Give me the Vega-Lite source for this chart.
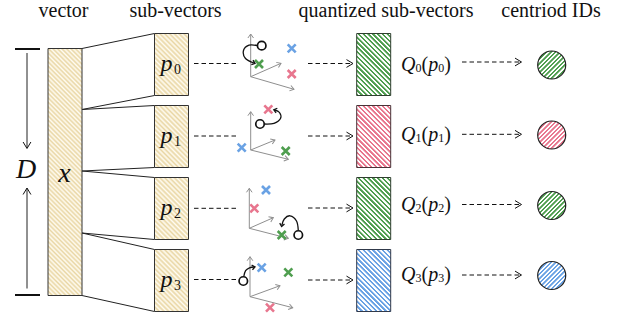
{
  "$schema": "https://vega.github.io/schema/vega-lite/v6.json",
  "width": 625,
  "height": 318,
  "autosize": {"type": "fit", "contains": "padding"},
  "padding": 0,
  "background": "white",
  "config": {"view": {"stroke": null}},
  "encoding": {
    "x": {"field": "x", "type": "quantitative", "scale": {"domain": [0, 625], "nice": false, "zero": false}, "axis": null},
    "y": {"field": "y", "type": "quantitative", "scale": {"domain": [0, 318], "nice": false, "zero": false, "reverse": true}, "axis": null}
  },
  "layer": [
    {
      "data": {"values": [
        {"x": 250.7, "y": 76.7, "x2": 250.7, "y2": 34},
        {"x": 250.7, "y": 76.7, "x2": 281, "y2": 63.3},
        {"x": 250.7, "y": 76.7, "x2": 294, "y2": 89.3},
        {"x": 250.7, "y": 150, "x2": 250.7, "y2": 111.7},
        {"x": 250.7, "y": 150, "x2": 275, "y2": 140},
        {"x": 250.7, "y": 150, "x2": 288.3, "y2": 159.3},
        {"x": 249.3, "y": 228.3, "x2": 249.3, "y2": 188.3},
        {"x": 249.3, "y": 228.3, "x2": 273.3, "y2": 217.7},
        {"x": 249.3, "y": 228.3, "x2": 288.3, "y2": 238.3},
        {"x": 250, "y": 296.7, "x2": 250, "y2": 256.7},
        {"x": 250, "y": 296.7, "x2": 280, "y2": 285.7},
        {"x": 250, "y": 296.7, "x2": 292.7, "y2": 307.7}
      ]},
      "mark": {"type": "rule", "color": "#8f8f8f", "strokeWidth": 1},
      "encoding": {"x2": {"field": "x2"}, "y2": {"field": "y2"}}
    },
    {
      "data": {"values": [
        {"x": 250.7, "y": 34, "a": 270},
        {"x": 281, "y": 63.3, "a": -24},
        {"x": 294, "y": 89.3, "a": 16},
        {"x": 250.7, "y": 111.7, "a": 270},
        {"x": 275, "y": 140, "a": -22},
        {"x": 288.3, "y": 159.3, "a": 14},
        {"x": 249.3, "y": 188.3, "a": 270},
        {"x": 273.3, "y": 217.7, "a": -24},
        {"x": 288.3, "y": 238.3, "a": 14},
        {"x": 250, "y": 256.7, "a": 270},
        {"x": 280, "y": 285.7, "a": -20},
        {"x": 292.7, "y": 307.7, "a": 14}
      ]},
      "mark": {"type": "point", "shape": "M-1,-0.7L0,0L-1,0.7", "filled": false, "stroke": "#8f8f8f", "strokeWidth": 1, "size": 64, "opacity": 1},
      "encoding": {"angle": {"field": "a", "type": "quantitative", "scale": null}}
    },
    {
      "data": {"values": [
        {"x": 82, "y": 48.5, "x2": 154.5, "y2": 33.5},
        {"x": 82, "y": 109.5, "x2": 154.5, "y2": 95.5},
        {"x": 82, "y": 109.5, "x2": 154.5, "y2": 105.5},
        {"x": 82, "y": 171, "x2": 154.5, "y2": 167.5},
        {"x": 82, "y": 171, "x2": 154.5, "y2": 177.5},
        {"x": 82, "y": 233, "x2": 154.5, "y2": 239.5},
        {"x": 82, "y": 233, "x2": 154.5, "y2": 249.5},
        {"x": 82, "y": 295.5, "x2": 154.5, "y2": 311.5},
        {"x": 27, "y": 53, "x2": 27, "y2": 148},
        {"x": 27, "y": 188.5, "x2": 27, "y2": 288.5}
      ]},
      "mark": {"type": "rule", "color": "#222222", "strokeWidth": 1},
      "encoding": {"x2": {"field": "x2"}, "y2": {"field": "y2"}}
    },
    {
      "data": {"values": [
        {"x": 15, "y": 49, "x2": 40, "y2": 49},
        {"x": 15, "y": 295, "x2": 40, "y2": 295}
      ]},
      "mark": {"type": "rule", "color": "#111111", "strokeWidth": 2},
      "encoding": {"x2": {"field": "x2"}, "y2": {"field": "y2"}}
    },
    {
      "data": {"values": [
        {"x": 194, "y": 63.5, "x2": 238.5, "y2": 63.5},
        {"x": 194, "y": 136, "x2": 238.5, "y2": 136},
        {"x": 194, "y": 208.3, "x2": 238.5, "y2": 208.3},
        {"x": 194, "y": 279.5, "x2": 238, "y2": 279.5},
        {"x": 308, "y": 63.5, "x2": 352.5, "y2": 63.5},
        {"x": 308, "y": 136, "x2": 352.5, "y2": 136},
        {"x": 308, "y": 208, "x2": 352.5, "y2": 208},
        {"x": 308, "y": 280, "x2": 352.5, "y2": 280},
        {"x": 462, "y": 62, "x2": 521, "y2": 62},
        {"x": 462, "y": 134.3, "x2": 521, "y2": 134.3},
        {"x": 462, "y": 204.5, "x2": 521, "y2": 204.5},
        {"x": 462, "y": 275, "x2": 521, "y2": 275}
      ]},
      "mark": {"type": "rule", "color": "#111111", "strokeWidth": 1, "strokeDash": [4.5, 3]},
      "encoding": {"x2": {"field": "x2"}, "y2": {"field": "y2"}}
    },
    {
      "data": {"values": [
        {"x": 353, "y": 63.5, "a": 0},
        {"x": 353, "y": 136, "a": 0},
        {"x": 353, "y": 208, "a": 0},
        {"x": 353, "y": 280, "a": 0},
        {"x": 521.5, "y": 62, "a": 0},
        {"x": 521.5, "y": 134.3, "a": 0},
        {"x": 521.5, "y": 204.5, "a": 0},
        {"x": 521.5, "y": 275, "a": 0},
        {"x": 27, "y": 148.5, "a": 90},
        {"x": 27, "y": 188, "a": 270}
      ]},
      "mark": {"type": "point", "shape": "M-1,-0.6L0,0L-1,0.6", "filled": false, "stroke": "#111111", "strokeWidth": 1, "size": 169, "opacity": 1},
      "encoding": {"angle": {"field": "a", "type": "quantitative", "scale": null}}
    },
    {
      "data": {"values": [
        {"x": 48, "y": 48.5, "x2": 82, "y2": 295.5}
      ]},
      "mark": {"type": "rect", "stroke": "#333333", "strokeWidth": 1,
        "fill": {"gradient": "linear", "x1": 0, "y1": 1, "x2": 0.1537, "y2": -0.1165, "stops": [
          {"offset": 0, "color": "#e9d6a4"}, {"offset": 0.008, "color": "#fffcf2"}, {"offset": 0.016, "color": "#e9d6a4"}, {"offset": 0.024, "color": "#fffcf2"},
          {"offset": 0.032, "color": "#e9d6a4"}, {"offset": 0.04, "color": "#fffcf2"}, {"offset": 0.048, "color": "#e9d6a4"}, {"offset": 0.056, "color": "#fffcf2"},
          {"offset": 0.064, "color": "#e9d6a4"}, {"offset": 0.072, "color": "#fffcf2"}, {"offset": 0.08, "color": "#e9d6a4"}, {"offset": 0.088, "color": "#fffcf2"},
          {"offset": 0.096, "color": "#e9d6a4"}, {"offset": 0.104, "color": "#fffcf2"}, {"offset": 0.112, "color": "#e9d6a4"}, {"offset": 0.12, "color": "#fffcf2"},
          {"offset": 0.128, "color": "#e9d6a4"}, {"offset": 0.136, "color": "#fffcf2"}, {"offset": 0.144, "color": "#e9d6a4"}, {"offset": 0.152, "color": "#fffcf2"},
          {"offset": 0.16, "color": "#e9d6a4"}, {"offset": 0.168, "color": "#fffcf2"}, {"offset": 0.176, "color": "#e9d6a4"}, {"offset": 0.184, "color": "#fffcf2"},
          {"offset": 0.192, "color": "#e9d6a4"}, {"offset": 0.2, "color": "#fffcf2"}, {"offset": 0.208, "color": "#e9d6a4"}, {"offset": 0.216, "color": "#fffcf2"},
          {"offset": 0.224, "color": "#e9d6a4"}, {"offset": 0.232, "color": "#fffcf2"}, {"offset": 0.24, "color": "#e9d6a4"}, {"offset": 0.248, "color": "#fffcf2"},
          {"offset": 0.256, "color": "#e9d6a4"}, {"offset": 0.264, "color": "#fffcf2"}, {"offset": 0.272, "color": "#e9d6a4"}, {"offset": 0.28, "color": "#fffcf2"},
          {"offset": 0.288, "color": "#e9d6a4"}, {"offset": 0.296, "color": "#fffcf2"}, {"offset": 0.304, "color": "#e9d6a4"}, {"offset": 0.312, "color": "#fffcf2"},
          {"offset": 0.32, "color": "#e9d6a4"}, {"offset": 0.328, "color": "#fffcf2"}, {"offset": 0.336, "color": "#e9d6a4"}, {"offset": 0.344, "color": "#fffcf2"},
          {"offset": 0.352, "color": "#e9d6a4"}, {"offset": 0.36, "color": "#fffcf2"}, {"offset": 0.368, "color": "#e9d6a4"}, {"offset": 0.376, "color": "#fffcf2"},
          {"offset": 0.384, "color": "#e9d6a4"}, {"offset": 0.392, "color": "#fffcf2"}, {"offset": 0.4, "color": "#e9d6a4"}, {"offset": 0.408, "color": "#fffcf2"},
          {"offset": 0.416, "color": "#e9d6a4"}, {"offset": 0.424, "color": "#fffcf2"}, {"offset": 0.432, "color": "#e9d6a4"}, {"offset": 0.44, "color": "#fffcf2"},
          {"offset": 0.448, "color": "#e9d6a4"}, {"offset": 0.456, "color": "#fffcf2"}, {"offset": 0.464, "color": "#e9d6a4"}, {"offset": 0.472, "color": "#fffcf2"},
          {"offset": 0.48, "color": "#e9d6a4"}, {"offset": 0.488, "color": "#fffcf2"}, {"offset": 0.496, "color": "#e9d6a4"}, {"offset": 0.504, "color": "#fffcf2"},
          {"offset": 0.512, "color": "#e9d6a4"}, {"offset": 0.52, "color": "#fffcf2"}, {"offset": 0.528, "color": "#e9d6a4"}, {"offset": 0.536, "color": "#fffcf2"},
          {"offset": 0.544, "color": "#e9d6a4"}, {"offset": 0.552, "color": "#fffcf2"}, {"offset": 0.56, "color": "#e9d6a4"}, {"offset": 0.568, "color": "#fffcf2"},
          {"offset": 0.576, "color": "#e9d6a4"}, {"offset": 0.584, "color": "#fffcf2"}, {"offset": 0.592, "color": "#e9d6a4"}, {"offset": 0.6, "color": "#fffcf2"},
          {"offset": 0.608, "color": "#e9d6a4"}, {"offset": 0.616, "color": "#fffcf2"}, {"offset": 0.624, "color": "#e9d6a4"}, {"offset": 0.632, "color": "#fffcf2"},
          {"offset": 0.64, "color": "#e9d6a4"}, {"offset": 0.648, "color": "#fffcf2"}, {"offset": 0.656, "color": "#e9d6a4"}, {"offset": 0.664, "color": "#fffcf2"},
          {"offset": 0.672, "color": "#e9d6a4"}, {"offset": 0.68, "color": "#fffcf2"}, {"offset": 0.688, "color": "#e9d6a4"}, {"offset": 0.696, "color": "#fffcf2"},
          {"offset": 0.704, "color": "#e9d6a4"}, {"offset": 0.712, "color": "#fffcf2"}, {"offset": 0.72, "color": "#e9d6a4"}, {"offset": 0.728, "color": "#fffcf2"},
          {"offset": 0.736, "color": "#e9d6a4"}, {"offset": 0.744, "color": "#fffcf2"}, {"offset": 0.752, "color": "#e9d6a4"}, {"offset": 0.76, "color": "#fffcf2"},
          {"offset": 0.768, "color": "#e9d6a4"}, {"offset": 0.776, "color": "#fffcf2"}, {"offset": 0.784, "color": "#e9d6a4"}, {"offset": 0.792, "color": "#fffcf2"},
          {"offset": 0.8, "color": "#e9d6a4"}, {"offset": 0.808, "color": "#fffcf2"}, {"offset": 0.816, "color": "#e9d6a4"}, {"offset": 0.824, "color": "#fffcf2"},
          {"offset": 0.832, "color": "#e9d6a4"}, {"offset": 0.84, "color": "#fffcf2"}, {"offset": 0.848, "color": "#e9d6a4"}, {"offset": 0.856, "color": "#fffcf2"},
          {"offset": 0.864, "color": "#e9d6a4"}, {"offset": 0.872, "color": "#fffcf2"}, {"offset": 0.88, "color": "#e9d6a4"}, {"offset": 0.888, "color": "#fffcf2"},
          {"offset": 0.896, "color": "#e9d6a4"}, {"offset": 0.904, "color": "#fffcf2"}, {"offset": 0.912, "color": "#e9d6a4"}, {"offset": 0.92, "color": "#fffcf2"},
          {"offset": 0.928, "color": "#e9d6a4"}, {"offset": 0.936, "color": "#fffcf2"}, {"offset": 0.944, "color": "#e9d6a4"}, {"offset": 0.952, "color": "#fffcf2"},
          {"offset": 0.96, "color": "#e9d6a4"}, {"offset": 0.968, "color": "#fffcf2"}, {"offset": 0.976, "color": "#e9d6a4"}, {"offset": 0.984, "color": "#fffcf2"},
          {"offset": 0.992, "color": "#e9d6a4"}, {"offset": 1, "color": "#fffcf2"}
        ]}},
      "encoding": {"x2": {"field": "x2"}, "y2": {"field": "y2"}}
    },
    {
      "data": {"values": [
        {"x": 154.5, "y": 33.5, "x2": 188.5, "y2": 95.5},
        {"x": 154.5, "y": 105.5, "x2": 188.5, "y2": 167.5},
        {"x": 154.5, "y": 177.5, "x2": 188.5, "y2": 239.5},
        {"x": 154.5, "y": 249.5, "x2": 188.5, "y2": 311.5}
      ]},
      "mark": {"type": "rect", "stroke": "#333333", "strokeWidth": 1,
        "fill": {"gradient": "linear", "x1": 0, "y1": 1, "x2": 0.6528, "y2": -0.1904, "stops": [
          {"offset": 0, "color": "#e9d6a4"}, {"offset": 0.025, "color": "#fffcf2"}, {"offset": 0.05, "color": "#e9d6a4"}, {"offset": 0.075, "color": "#fffcf2"},
          {"offset": 0.1, "color": "#e9d6a4"}, {"offset": 0.125, "color": "#fffcf2"}, {"offset": 0.15, "color": "#e9d6a4"}, {"offset": 0.175, "color": "#fffcf2"},
          {"offset": 0.2, "color": "#e9d6a4"}, {"offset": 0.225, "color": "#fffcf2"}, {"offset": 0.25, "color": "#e9d6a4"}, {"offset": 0.275, "color": "#fffcf2"},
          {"offset": 0.3, "color": "#e9d6a4"}, {"offset": 0.325, "color": "#fffcf2"}, {"offset": 0.35, "color": "#e9d6a4"}, {"offset": 0.375, "color": "#fffcf2"},
          {"offset": 0.4, "color": "#e9d6a4"}, {"offset": 0.425, "color": "#fffcf2"}, {"offset": 0.45, "color": "#e9d6a4"}, {"offset": 0.475, "color": "#fffcf2"},
          {"offset": 0.5, "color": "#e9d6a4"}, {"offset": 0.525, "color": "#fffcf2"}, {"offset": 0.55, "color": "#e9d6a4"}, {"offset": 0.575, "color": "#fffcf2"},
          {"offset": 0.6, "color": "#e9d6a4"}, {"offset": 0.625, "color": "#fffcf2"}, {"offset": 0.65, "color": "#e9d6a4"}, {"offset": 0.675, "color": "#fffcf2"},
          {"offset": 0.7, "color": "#e9d6a4"}, {"offset": 0.725, "color": "#fffcf2"}, {"offset": 0.75, "color": "#e9d6a4"}, {"offset": 0.775, "color": "#fffcf2"},
          {"offset": 0.8, "color": "#e9d6a4"}, {"offset": 0.825, "color": "#fffcf2"}, {"offset": 0.85, "color": "#e9d6a4"}, {"offset": 0.875, "color": "#fffcf2"},
          {"offset": 0.9, "color": "#e9d6a4"}, {"offset": 0.925, "color": "#fffcf2"}, {"offset": 0.95, "color": "#e9d6a4"}, {"offset": 0.975, "color": "#fffcf2"},
          {"offset": 1, "color": "#e9d6a4"}
        ]}},
      "encoding": {"x2": {"field": "x2"}, "y2": {"field": "y2"}}
    },
    {
      "data": {"values": [
        {"x": 356.7, "y": 33.5, "x2": 390.7, "y2": 95.5},
        {"x": 356.7, "y": 177.5, "x2": 390.7, "y2": 239.5}
      ]},
      "mark": {"type": "rect", "stroke": "#2f3f2f", "strokeWidth": 1,
        "fill": {"gradient": "linear", "x1": 0, "y1": 1, "x2": 0.6528, "y2": -0.1904, "stops": [
          {"offset": 0, "color": "#4f9e4f"}, {"offset": 0.02, "color": "#4f9e4f"}, {"offset": 0.025, "color": "#ffffff"}, {"offset": 0.045, "color": "#ffffff"},
          {"offset": 0.05, "color": "#4f9e4f"}, {"offset": 0.07, "color": "#4f9e4f"}, {"offset": 0.075, "color": "#ffffff"}, {"offset": 0.095, "color": "#ffffff"},
          {"offset": 0.1, "color": "#4f9e4f"}, {"offset": 0.12, "color": "#4f9e4f"}, {"offset": 0.125, "color": "#ffffff"}, {"offset": 0.145, "color": "#ffffff"},
          {"offset": 0.15, "color": "#4f9e4f"}, {"offset": 0.17, "color": "#4f9e4f"}, {"offset": 0.175, "color": "#ffffff"}, {"offset": 0.195, "color": "#ffffff"},
          {"offset": 0.2, "color": "#4f9e4f"}, {"offset": 0.22, "color": "#4f9e4f"}, {"offset": 0.225, "color": "#ffffff"}, {"offset": 0.245, "color": "#ffffff"},
          {"offset": 0.25, "color": "#4f9e4f"}, {"offset": 0.27, "color": "#4f9e4f"}, {"offset": 0.275, "color": "#ffffff"}, {"offset": 0.295, "color": "#ffffff"},
          {"offset": 0.3, "color": "#4f9e4f"}, {"offset": 0.32, "color": "#4f9e4f"}, {"offset": 0.325, "color": "#ffffff"}, {"offset": 0.345, "color": "#ffffff"},
          {"offset": 0.35, "color": "#4f9e4f"}, {"offset": 0.37, "color": "#4f9e4f"}, {"offset": 0.375, "color": "#ffffff"}, {"offset": 0.395, "color": "#ffffff"},
          {"offset": 0.4, "color": "#4f9e4f"}, {"offset": 0.42, "color": "#4f9e4f"}, {"offset": 0.425, "color": "#ffffff"}, {"offset": 0.445, "color": "#ffffff"},
          {"offset": 0.45, "color": "#4f9e4f"}, {"offset": 0.47, "color": "#4f9e4f"}, {"offset": 0.475, "color": "#ffffff"}, {"offset": 0.495, "color": "#ffffff"},
          {"offset": 0.5, "color": "#4f9e4f"}, {"offset": 0.52, "color": "#4f9e4f"}, {"offset": 0.525, "color": "#ffffff"}, {"offset": 0.545, "color": "#ffffff"},
          {"offset": 0.55, "color": "#4f9e4f"}, {"offset": 0.57, "color": "#4f9e4f"}, {"offset": 0.575, "color": "#ffffff"}, {"offset": 0.595, "color": "#ffffff"},
          {"offset": 0.6, "color": "#4f9e4f"}, {"offset": 0.62, "color": "#4f9e4f"}, {"offset": 0.625, "color": "#ffffff"}, {"offset": 0.645, "color": "#ffffff"},
          {"offset": 0.65, "color": "#4f9e4f"}, {"offset": 0.67, "color": "#4f9e4f"}, {"offset": 0.675, "color": "#ffffff"}, {"offset": 0.695, "color": "#ffffff"},
          {"offset": 0.7, "color": "#4f9e4f"}, {"offset": 0.72, "color": "#4f9e4f"}, {"offset": 0.725, "color": "#ffffff"}, {"offset": 0.745, "color": "#ffffff"},
          {"offset": 0.75, "color": "#4f9e4f"}, {"offset": 0.77, "color": "#4f9e4f"}, {"offset": 0.775, "color": "#ffffff"}, {"offset": 0.795, "color": "#ffffff"},
          {"offset": 0.8, "color": "#4f9e4f"}, {"offset": 0.82, "color": "#4f9e4f"}, {"offset": 0.825, "color": "#ffffff"}, {"offset": 0.845, "color": "#ffffff"},
          {"offset": 0.85, "color": "#4f9e4f"}, {"offset": 0.87, "color": "#4f9e4f"}, {"offset": 0.875, "color": "#ffffff"}, {"offset": 0.895, "color": "#ffffff"},
          {"offset": 0.9, "color": "#4f9e4f"}, {"offset": 0.92, "color": "#4f9e4f"}, {"offset": 0.925, "color": "#ffffff"}, {"offset": 0.945, "color": "#ffffff"},
          {"offset": 0.95, "color": "#4f9e4f"}, {"offset": 0.97, "color": "#4f9e4f"}, {"offset": 0.975, "color": "#ffffff"}, {"offset": 0.995, "color": "#ffffff"},
          {"offset": 1, "color": "#4f9e4f"}
        ]}},
      "encoding": {"x2": {"field": "x2"}, "y2": {"field": "y2"}}
    },
    {
      "data": {"values": [
        {"x": 356.7, "y": 105.5, "x2": 390.7, "y2": 167.5}
      ]},
      "mark": {"type": "rect", "stroke": "#4a3338", "strokeWidth": 1,
        "fill": {"gradient": "linear", "x1": 0, "y1": 1, "x2": 0.6528, "y2": -0.1904, "stops": [
          {"offset": 0, "color": "#e8768e"}, {"offset": 0.02, "color": "#e8768e"}, {"offset": 0.025, "color": "#ffffff"}, {"offset": 0.045, "color": "#ffffff"},
          {"offset": 0.05, "color": "#e8768e"}, {"offset": 0.07, "color": "#e8768e"}, {"offset": 0.075, "color": "#ffffff"}, {"offset": 0.095, "color": "#ffffff"},
          {"offset": 0.1, "color": "#e8768e"}, {"offset": 0.12, "color": "#e8768e"}, {"offset": 0.125, "color": "#ffffff"}, {"offset": 0.145, "color": "#ffffff"},
          {"offset": 0.15, "color": "#e8768e"}, {"offset": 0.17, "color": "#e8768e"}, {"offset": 0.175, "color": "#ffffff"}, {"offset": 0.195, "color": "#ffffff"},
          {"offset": 0.2, "color": "#e8768e"}, {"offset": 0.22, "color": "#e8768e"}, {"offset": 0.225, "color": "#ffffff"}, {"offset": 0.245, "color": "#ffffff"},
          {"offset": 0.25, "color": "#e8768e"}, {"offset": 0.27, "color": "#e8768e"}, {"offset": 0.275, "color": "#ffffff"}, {"offset": 0.295, "color": "#ffffff"},
          {"offset": 0.3, "color": "#e8768e"}, {"offset": 0.32, "color": "#e8768e"}, {"offset": 0.325, "color": "#ffffff"}, {"offset": 0.345, "color": "#ffffff"},
          {"offset": 0.35, "color": "#e8768e"}, {"offset": 0.37, "color": "#e8768e"}, {"offset": 0.375, "color": "#ffffff"}, {"offset": 0.395, "color": "#ffffff"},
          {"offset": 0.4, "color": "#e8768e"}, {"offset": 0.42, "color": "#e8768e"}, {"offset": 0.425, "color": "#ffffff"}, {"offset": 0.445, "color": "#ffffff"},
          {"offset": 0.45, "color": "#e8768e"}, {"offset": 0.47, "color": "#e8768e"}, {"offset": 0.475, "color": "#ffffff"}, {"offset": 0.495, "color": "#ffffff"},
          {"offset": 0.5, "color": "#e8768e"}, {"offset": 0.52, "color": "#e8768e"}, {"offset": 0.525, "color": "#ffffff"}, {"offset": 0.545, "color": "#ffffff"},
          {"offset": 0.55, "color": "#e8768e"}, {"offset": 0.57, "color": "#e8768e"}, {"offset": 0.575, "color": "#ffffff"}, {"offset": 0.595, "color": "#ffffff"},
          {"offset": 0.6, "color": "#e8768e"}, {"offset": 0.62, "color": "#e8768e"}, {"offset": 0.625, "color": "#ffffff"}, {"offset": 0.645, "color": "#ffffff"},
          {"offset": 0.65, "color": "#e8768e"}, {"offset": 0.67, "color": "#e8768e"}, {"offset": 0.675, "color": "#ffffff"}, {"offset": 0.695, "color": "#ffffff"},
          {"offset": 0.7, "color": "#e8768e"}, {"offset": 0.72, "color": "#e8768e"}, {"offset": 0.725, "color": "#ffffff"}, {"offset": 0.745, "color": "#ffffff"},
          {"offset": 0.75, "color": "#e8768e"}, {"offset": 0.77, "color": "#e8768e"}, {"offset": 0.775, "color": "#ffffff"}, {"offset": 0.795, "color": "#ffffff"},
          {"offset": 0.8, "color": "#e8768e"}, {"offset": 0.82, "color": "#e8768e"}, {"offset": 0.825, "color": "#ffffff"}, {"offset": 0.845, "color": "#ffffff"},
          {"offset": 0.85, "color": "#e8768e"}, {"offset": 0.87, "color": "#e8768e"}, {"offset": 0.875, "color": "#ffffff"}, {"offset": 0.895, "color": "#ffffff"},
          {"offset": 0.9, "color": "#e8768e"}, {"offset": 0.92, "color": "#e8768e"}, {"offset": 0.925, "color": "#ffffff"}, {"offset": 0.945, "color": "#ffffff"},
          {"offset": 0.95, "color": "#e8768e"}, {"offset": 0.97, "color": "#e8768e"}, {"offset": 0.975, "color": "#ffffff"}, {"offset": 0.995, "color": "#ffffff"},
          {"offset": 1, "color": "#e8768e"}
        ]}},
      "encoding": {"x2": {"field": "x2"}, "y2": {"field": "y2"}}
    },
    {
      "data": {"values": [
        {"x": 356.7, "y": 249.5, "x2": 390.7, "y2": 311.5}
      ]},
      "mark": {"type": "rect", "stroke": "#30394a", "strokeWidth": 1,
        "fill": {"gradient": "linear", "x1": 0, "y1": 1, "x2": 0.6528, "y2": -0.1904, "stops": [
          {"offset": 0, "color": "#6aa2e4"}, {"offset": 0.02, "color": "#6aa2e4"}, {"offset": 0.025, "color": "#ffffff"}, {"offset": 0.045, "color": "#ffffff"},
          {"offset": 0.05, "color": "#6aa2e4"}, {"offset": 0.07, "color": "#6aa2e4"}, {"offset": 0.075, "color": "#ffffff"}, {"offset": 0.095, "color": "#ffffff"},
          {"offset": 0.1, "color": "#6aa2e4"}, {"offset": 0.12, "color": "#6aa2e4"}, {"offset": 0.125, "color": "#ffffff"}, {"offset": 0.145, "color": "#ffffff"},
          {"offset": 0.15, "color": "#6aa2e4"}, {"offset": 0.17, "color": "#6aa2e4"}, {"offset": 0.175, "color": "#ffffff"}, {"offset": 0.195, "color": "#ffffff"},
          {"offset": 0.2, "color": "#6aa2e4"}, {"offset": 0.22, "color": "#6aa2e4"}, {"offset": 0.225, "color": "#ffffff"}, {"offset": 0.245, "color": "#ffffff"},
          {"offset": 0.25, "color": "#6aa2e4"}, {"offset": 0.27, "color": "#6aa2e4"}, {"offset": 0.275, "color": "#ffffff"}, {"offset": 0.295, "color": "#ffffff"},
          {"offset": 0.3, "color": "#6aa2e4"}, {"offset": 0.32, "color": "#6aa2e4"}, {"offset": 0.325, "color": "#ffffff"}, {"offset": 0.345, "color": "#ffffff"},
          {"offset": 0.35, "color": "#6aa2e4"}, {"offset": 0.37, "color": "#6aa2e4"}, {"offset": 0.375, "color": "#ffffff"}, {"offset": 0.395, "color": "#ffffff"},
          {"offset": 0.4, "color": "#6aa2e4"}, {"offset": 0.42, "color": "#6aa2e4"}, {"offset": 0.425, "color": "#ffffff"}, {"offset": 0.445, "color": "#ffffff"},
          {"offset": 0.45, "color": "#6aa2e4"}, {"offset": 0.47, "color": "#6aa2e4"}, {"offset": 0.475, "color": "#ffffff"}, {"offset": 0.495, "color": "#ffffff"},
          {"offset": 0.5, "color": "#6aa2e4"}, {"offset": 0.52, "color": "#6aa2e4"}, {"offset": 0.525, "color": "#ffffff"}, {"offset": 0.545, "color": "#ffffff"},
          {"offset": 0.55, "color": "#6aa2e4"}, {"offset": 0.57, "color": "#6aa2e4"}, {"offset": 0.575, "color": "#ffffff"}, {"offset": 0.595, "color": "#ffffff"},
          {"offset": 0.6, "color": "#6aa2e4"}, {"offset": 0.62, "color": "#6aa2e4"}, {"offset": 0.625, "color": "#ffffff"}, {"offset": 0.645, "color": "#ffffff"},
          {"offset": 0.65, "color": "#6aa2e4"}, {"offset": 0.67, "color": "#6aa2e4"}, {"offset": 0.675, "color": "#ffffff"}, {"offset": 0.695, "color": "#ffffff"},
          {"offset": 0.7, "color": "#6aa2e4"}, {"offset": 0.72, "color": "#6aa2e4"}, {"offset": 0.725, "color": "#ffffff"}, {"offset": 0.745, "color": "#ffffff"},
          {"offset": 0.75, "color": "#6aa2e4"}, {"offset": 0.77, "color": "#6aa2e4"}, {"offset": 0.775, "color": "#ffffff"}, {"offset": 0.795, "color": "#ffffff"},
          {"offset": 0.8, "color": "#6aa2e4"}, {"offset": 0.82, "color": "#6aa2e4"}, {"offset": 0.825, "color": "#ffffff"}, {"offset": 0.845, "color": "#ffffff"},
          {"offset": 0.85, "color": "#6aa2e4"}, {"offset": 0.87, "color": "#6aa2e4"}, {"offset": 0.875, "color": "#ffffff"}, {"offset": 0.895, "color": "#ffffff"},
          {"offset": 0.9, "color": "#6aa2e4"}, {"offset": 0.92, "color": "#6aa2e4"}, {"offset": 0.925, "color": "#ffffff"}, {"offset": 0.945, "color": "#ffffff"},
          {"offset": 0.95, "color": "#6aa2e4"}, {"offset": 0.97, "color": "#6aa2e4"}, {"offset": 0.975, "color": "#ffffff"}, {"offset": 0.995, "color": "#ffffff"},
          {"offset": 1, "color": "#6aa2e4"}
        ]}},
      "encoding": {"x2": {"field": "x2"}, "y2": {"field": "y2"}}
    },
    {
      "data": {"values": [
        {"x": 551.7, "y": 65},
        {"x": 551.7, "y": 205.5}
      ]},
      "mark": {"type": "point", "shape": "circle", "filled": true, "size": 784, "stroke": "#222222", "strokeWidth": 1.2, "opacity": 1,
        "fill": {"gradient": "linear", "x1": 0, "y1": 0, "x2": 1, "y2": 1, "stops": [
          {"offset": 0, "color": "#4f9e4f"}, {"offset": 0.032, "color": "#4f9e4f"}, {"offset": 0.04, "color": "#ffffff"}, {"offset": 0.072, "color": "#ffffff"},
          {"offset": 0.08, "color": "#4f9e4f"}, {"offset": 0.112, "color": "#4f9e4f"}, {"offset": 0.12, "color": "#ffffff"}, {"offset": 0.152, "color": "#ffffff"},
          {"offset": 0.16, "color": "#4f9e4f"}, {"offset": 0.192, "color": "#4f9e4f"}, {"offset": 0.2, "color": "#ffffff"}, {"offset": 0.232, "color": "#ffffff"},
          {"offset": 0.24, "color": "#4f9e4f"}, {"offset": 0.272, "color": "#4f9e4f"}, {"offset": 0.28, "color": "#ffffff"}, {"offset": 0.312, "color": "#ffffff"},
          {"offset": 0.32, "color": "#4f9e4f"}, {"offset": 0.352, "color": "#4f9e4f"}, {"offset": 0.36, "color": "#ffffff"}, {"offset": 0.392, "color": "#ffffff"},
          {"offset": 0.4, "color": "#4f9e4f"}, {"offset": 0.432, "color": "#4f9e4f"}, {"offset": 0.44, "color": "#ffffff"}, {"offset": 0.472, "color": "#ffffff"},
          {"offset": 0.48, "color": "#4f9e4f"}, {"offset": 0.512, "color": "#4f9e4f"}, {"offset": 0.52, "color": "#ffffff"}, {"offset": 0.552, "color": "#ffffff"},
          {"offset": 0.56, "color": "#4f9e4f"}, {"offset": 0.592, "color": "#4f9e4f"}, {"offset": 0.6, "color": "#ffffff"}, {"offset": 0.632, "color": "#ffffff"},
          {"offset": 0.64, "color": "#4f9e4f"}, {"offset": 0.672, "color": "#4f9e4f"}, {"offset": 0.68, "color": "#ffffff"}, {"offset": 0.712, "color": "#ffffff"},
          {"offset": 0.72, "color": "#4f9e4f"}, {"offset": 0.752, "color": "#4f9e4f"}, {"offset": 0.76, "color": "#ffffff"}, {"offset": 0.792, "color": "#ffffff"},
          {"offset": 0.8, "color": "#4f9e4f"}, {"offset": 0.832, "color": "#4f9e4f"}, {"offset": 0.84, "color": "#ffffff"}, {"offset": 0.872, "color": "#ffffff"},
          {"offset": 0.88, "color": "#4f9e4f"}, {"offset": 0.912, "color": "#4f9e4f"}, {"offset": 0.92, "color": "#ffffff"}, {"offset": 0.952, "color": "#ffffff"},
          {"offset": 0.96, "color": "#4f9e4f"}, {"offset": 0.992, "color": "#4f9e4f"}, {"offset": 1, "color": "#ffffff"}
        ]}}
    },
    {
      "data": {"values": [
        {"x": 551.7, "y": 135}
      ]},
      "mark": {"type": "point", "shape": "circle", "filled": true, "size": 784, "stroke": "#222222", "strokeWidth": 1.2, "opacity": 1,
        "fill": {"gradient": "linear", "x1": 0, "y1": 0, "x2": 1, "y2": 1, "stops": [
          {"offset": 0, "color": "#e8768e"}, {"offset": 0.032, "color": "#e8768e"}, {"offset": 0.04, "color": "#ffffff"}, {"offset": 0.072, "color": "#ffffff"},
          {"offset": 0.08, "color": "#e8768e"}, {"offset": 0.112, "color": "#e8768e"}, {"offset": 0.12, "color": "#ffffff"}, {"offset": 0.152, "color": "#ffffff"},
          {"offset": 0.16, "color": "#e8768e"}, {"offset": 0.192, "color": "#e8768e"}, {"offset": 0.2, "color": "#ffffff"}, {"offset": 0.232, "color": "#ffffff"},
          {"offset": 0.24, "color": "#e8768e"}, {"offset": 0.272, "color": "#e8768e"}, {"offset": 0.28, "color": "#ffffff"}, {"offset": 0.312, "color": "#ffffff"},
          {"offset": 0.32, "color": "#e8768e"}, {"offset": 0.352, "color": "#e8768e"}, {"offset": 0.36, "color": "#ffffff"}, {"offset": 0.392, "color": "#ffffff"},
          {"offset": 0.4, "color": "#e8768e"}, {"offset": 0.432, "color": "#e8768e"}, {"offset": 0.44, "color": "#ffffff"}, {"offset": 0.472, "color": "#ffffff"},
          {"offset": 0.48, "color": "#e8768e"}, {"offset": 0.512, "color": "#e8768e"}, {"offset": 0.52, "color": "#ffffff"}, {"offset": 0.552, "color": "#ffffff"},
          {"offset": 0.56, "color": "#e8768e"}, {"offset": 0.592, "color": "#e8768e"}, {"offset": 0.6, "color": "#ffffff"}, {"offset": 0.632, "color": "#ffffff"},
          {"offset": 0.64, "color": "#e8768e"}, {"offset": 0.672, "color": "#e8768e"}, {"offset": 0.68, "color": "#ffffff"}, {"offset": 0.712, "color": "#ffffff"},
          {"offset": 0.72, "color": "#e8768e"}, {"offset": 0.752, "color": "#e8768e"}, {"offset": 0.76, "color": "#ffffff"}, {"offset": 0.792, "color": "#ffffff"},
          {"offset": 0.8, "color": "#e8768e"}, {"offset": 0.832, "color": "#e8768e"}, {"offset": 0.84, "color": "#ffffff"}, {"offset": 0.872, "color": "#ffffff"},
          {"offset": 0.88, "color": "#e8768e"}, {"offset": 0.912, "color": "#e8768e"}, {"offset": 0.92, "color": "#ffffff"}, {"offset": 0.952, "color": "#ffffff"},
          {"offset": 0.96, "color": "#e8768e"}, {"offset": 0.992, "color": "#e8768e"}, {"offset": 1, "color": "#ffffff"}
        ]}}
    },
    {
      "data": {"values": [
        {"x": 551.7, "y": 275.5}
      ]},
      "mark": {"type": "point", "shape": "circle", "filled": true, "size": 784, "stroke": "#222222", "strokeWidth": 1.2, "opacity": 1,
        "fill": {"gradient": "linear", "x1": 0, "y1": 0, "x2": 1, "y2": 1, "stops": [
          {"offset": 0, "color": "#6aa2e4"}, {"offset": 0.032, "color": "#6aa2e4"}, {"offset": 0.04, "color": "#ffffff"}, {"offset": 0.072, "color": "#ffffff"},
          {"offset": 0.08, "color": "#6aa2e4"}, {"offset": 0.112, "color": "#6aa2e4"}, {"offset": 0.12, "color": "#ffffff"}, {"offset": 0.152, "color": "#ffffff"},
          {"offset": 0.16, "color": "#6aa2e4"}, {"offset": 0.192, "color": "#6aa2e4"}, {"offset": 0.2, "color": "#ffffff"}, {"offset": 0.232, "color": "#ffffff"},
          {"offset": 0.24, "color": "#6aa2e4"}, {"offset": 0.272, "color": "#6aa2e4"}, {"offset": 0.28, "color": "#ffffff"}, {"offset": 0.312, "color": "#ffffff"},
          {"offset": 0.32, "color": "#6aa2e4"}, {"offset": 0.352, "color": "#6aa2e4"}, {"offset": 0.36, "color": "#ffffff"}, {"offset": 0.392, "color": "#ffffff"},
          {"offset": 0.4, "color": "#6aa2e4"}, {"offset": 0.432, "color": "#6aa2e4"}, {"offset": 0.44, "color": "#ffffff"}, {"offset": 0.472, "color": "#ffffff"},
          {"offset": 0.48, "color": "#6aa2e4"}, {"offset": 0.512, "color": "#6aa2e4"}, {"offset": 0.52, "color": "#ffffff"}, {"offset": 0.552, "color": "#ffffff"},
          {"offset": 0.56, "color": "#6aa2e4"}, {"offset": 0.592, "color": "#6aa2e4"}, {"offset": 0.6, "color": "#ffffff"}, {"offset": 0.632, "color": "#ffffff"},
          {"offset": 0.64, "color": "#6aa2e4"}, {"offset": 0.672, "color": "#6aa2e4"}, {"offset": 0.68, "color": "#ffffff"}, {"offset": 0.712, "color": "#ffffff"},
          {"offset": 0.72, "color": "#6aa2e4"}, {"offset": 0.752, "color": "#6aa2e4"}, {"offset": 0.76, "color": "#ffffff"}, {"offset": 0.792, "color": "#ffffff"},
          {"offset": 0.8, "color": "#6aa2e4"}, {"offset": 0.832, "color": "#6aa2e4"}, {"offset": 0.84, "color": "#ffffff"}, {"offset": 0.872, "color": "#ffffff"},
          {"offset": 0.88, "color": "#6aa2e4"}, {"offset": 0.912, "color": "#6aa2e4"}, {"offset": 0.92, "color": "#ffffff"}, {"offset": 0.952, "color": "#ffffff"},
          {"offset": 0.96, "color": "#6aa2e4"}, {"offset": 0.992, "color": "#6aa2e4"}, {"offset": 1, "color": "#ffffff"}
        ]}}
    },
    {
      "data": {"values": [
        {"x": 259, "y": 64, "k": "g"},
        {"x": 291.7, "y": 48.3, "k": "b"},
        {"x": 291.7, "y": 74, "k": "p"},
        {"x": 268.3, "y": 109.3, "k": "p"},
        {"x": 241.7, "y": 147.7, "k": "b"},
        {"x": 285.7, "y": 151, "k": "g"},
        {"x": 266, "y": 190, "k": "b"},
        {"x": 254.3, "y": 208.3, "k": "p"},
        {"x": 281.7, "y": 235, "k": "g"},
        {"x": 261.7, "y": 267.7, "k": "b"},
        {"x": 288.3, "y": 272.3, "k": "g"},
        {"x": 270, "y": 307.7, "k": "p"}
      ]},
      "mark": {"type": "point", "shape": "M-1,-1L1,1M-1,1L1,-1", "filled": false, "strokeWidth": 2.6, "size": 64, "opacity": 1},
      "encoding": {
        "stroke": {"field": "k", "type": "nominal", "scale": {"domain": ["g", "p", "b"], "range": ["#4f9e4f", "#e8768e", "#6aa2e4"]}, "legend": null}
      }
    },
    {
      "data": {"values": [
        {"arc": 0, "i": 0, "x": 257.2, "y": 45.5},
        {"arc": 0, "i": 1, "x": 249, "y": 45.2},
        {"arc": 0, "i": 2, "x": 243.5, "y": 50.5},
        {"arc": 0, "i": 3, "x": 245.5, "y": 58.5},
        {"arc": 0, "i": 4, "x": 254, "y": 63},
        {"arc": 1, "i": 0, "x": 264.5, "y": 124},
        {"arc": 1, "i": 1, "x": 274, "y": 123.3},
        {"arc": 1, "i": 2, "x": 280.5, "y": 118.5},
        {"arc": 1, "i": 3, "x": 279.5, "y": 112.5},
        {"arc": 1, "i": 4, "x": 274.5, "y": 110},
        {"arc": 2, "i": 0, "x": 298.3, "y": 230.5},
        {"arc": 2, "i": 1, "x": 296.5, "y": 221},
        {"arc": 2, "i": 2, "x": 290, "y": 215.8},
        {"arc": 2, "i": 3, "x": 284.3, "y": 219},
        {"arc": 2, "i": 4, "x": 281.8, "y": 225.5},
        {"arc": 3, "i": 0, "x": 243.8, "y": 276.5},
        {"arc": 3, "i": 1, "x": 245.6, "y": 270.6},
        {"arc": 3, "i": 2, "x": 249.5, "y": 267.8},
        {"arc": 3, "i": 3, "x": 254.3, "y": 267}
      ]},
      "mark": {"type": "line", "interpolate": "cardinal", "color": "#111111", "strokeWidth": 1.3},
      "encoding": {
        "detail": {"field": "arc", "type": "nominal"},
        "order": {"field": "i", "type": "quantitative"}
      }
    },
    {
      "data": {"values": [
        {"x": 255, "y": 63.4, "a": 20},
        {"x": 273.8, "y": 109.8, "a": 195},
        {"x": 281.6, "y": 226.5, "a": 100},
        {"x": 255, "y": 266.9, "a": -10}
      ]},
      "mark": {"type": "point", "shape": "M-1,-0.8L0,0L-1,0.8", "filled": false, "stroke": "#111111", "strokeWidth": 1.3, "size": 36, "opacity": 1},
      "encoding": {"angle": {"field": "a", "type": "quantitative", "scale": null}}
    },
    {
      "data": {"values": [
        {"x": 261.7, "y": 45.7},
        {"x": 260, "y": 124},
        {"x": 298.3, "y": 235},
        {"x": 243.3, "y": 281}
      ]},
      "mark": {"type": "point", "shape": "circle", "filled": true, "fill": "white", "stroke": "#111111", "strokeWidth": 1.7, "size": 72, "opacity": 1}
    },
    {
      "data": {"values": [
        {"x": 63.5, "y": 17, "t": "vector"},
        {"x": 175.5, "y": 17, "t": "sub-vectors"},
        {"x": 386, "y": 17, "t": "quantized sub-vectors"},
        {"x": 551, "y": 17, "t": "centriod IDs"}
      ]},
      "mark": {"type": "text", "font": "Liberation Serif", "fontSize": 20, "align": "center", "baseline": "alphabetic", "color": "#111111"},
      "encoding": {"text": {"field": "t"}}
    },
    {
      "data": {"values": [
        {"x": 26, "y": 177.5, "t": "D"},
        {"x": 64.5, "y": 182, "t": "x"}
      ]},
      "mark": {"type": "text", "font": "Liberation Serif", "fontStyle": "italic", "fontSize": 28, "align": "center", "baseline": "alphabetic", "color": "#111111"},
      "encoding": {"text": {"field": "t"}}
    },
    {
      "data": {"values": [
        {"x": 160.5, "y": 71, "t": "p"},
        {"x": 160.5, "y": 143, "t": "p"},
        {"x": 160.5, "y": 215, "t": "p"},
        {"x": 160.5, "y": 287, "t": "p"}
      ]},
      "mark": {"type": "text", "font": "Liberation Serif", "fontStyle": "italic", "fontSize": 24, "align": "left", "baseline": "alphabetic", "color": "#111111"},
      "encoding": {"text": {"field": "t"}}
    },
    {
      "data": {"values": [
        {"x": 174, "y": 73.5, "t": "0"},
        {"x": 174, "y": 145.5, "t": "1"},
        {"x": 174, "y": 217.5, "t": "2"},
        {"x": 174, "y": 289.5, "t": "3"}
      ]},
      "mark": {"type": "text", "font": "Liberation Serif", "fontSize": 14, "align": "left", "baseline": "alphabetic", "color": "#111111"},
      "encoding": {"text": {"field": "t"}}
    },
    {
      "data": {"values": [
        {"x": 401, "y": 70.5, "t": "Q"},
        {"x": 428.2, "y": 70.5, "t": "p"},
        {"x": 401, "y": 141, "t": "Q"},
        {"x": 428.2, "y": 141, "t": "p"},
        {"x": 401, "y": 211.2, "t": "Q"},
        {"x": 428.2, "y": 211.2, "t": "p"},
        {"x": 401, "y": 281, "t": "Q"},
        {"x": 428.2, "y": 281, "t": "p"}
      ]},
      "mark": {"type": "text", "font": "Liberation Serif", "fontStyle": "italic", "fontSize": 20, "align": "left", "baseline": "alphabetic", "color": "#111111"},
      "encoding": {"text": {"field": "t"}}
    },
    {
      "data": {"values": [
        {"x": 421.5, "y": 70.5, "t": "("},
        {"x": 444.3, "y": 70.5, "t": ")"},
        {"x": 421.5, "y": 141, "t": "("},
        {"x": 444.3, "y": 141, "t": ")"},
        {"x": 421.5, "y": 211.2, "t": "("},
        {"x": 444.3, "y": 211.2, "t": ")"},
        {"x": 421.5, "y": 281, "t": "("},
        {"x": 444.3, "y": 281, "t": ")"}
      ]},
      "mark": {"type": "text", "font": "Liberation Serif", "fontSize": 20, "align": "left", "baseline": "alphabetic", "color": "#111111"},
      "encoding": {"text": {"field": "t"}}
    },
    {
      "data": {"values": [
        {"x": 415.5, "y": 71.5, "t": "0"},
        {"x": 438.3, "y": 71.5, "t": "0"},
        {"x": 415.5, "y": 142, "t": "1"},
        {"x": 438.3, "y": 142, "t": "1"},
        {"x": 415.5, "y": 212.2, "t": "2"},
        {"x": 438.3, "y": 212.2, "t": "2"},
        {"x": 415.5, "y": 282, "t": "3"},
        {"x": 438.3, "y": 282, "t": "3"}
      ]},
      "mark": {"type": "text", "font": "Liberation Serif", "fontSize": 12, "align": "left", "baseline": "alphabetic", "color": "#111111"},
      "encoding": {"text": {"field": "t"}}
    }
  ]
}
